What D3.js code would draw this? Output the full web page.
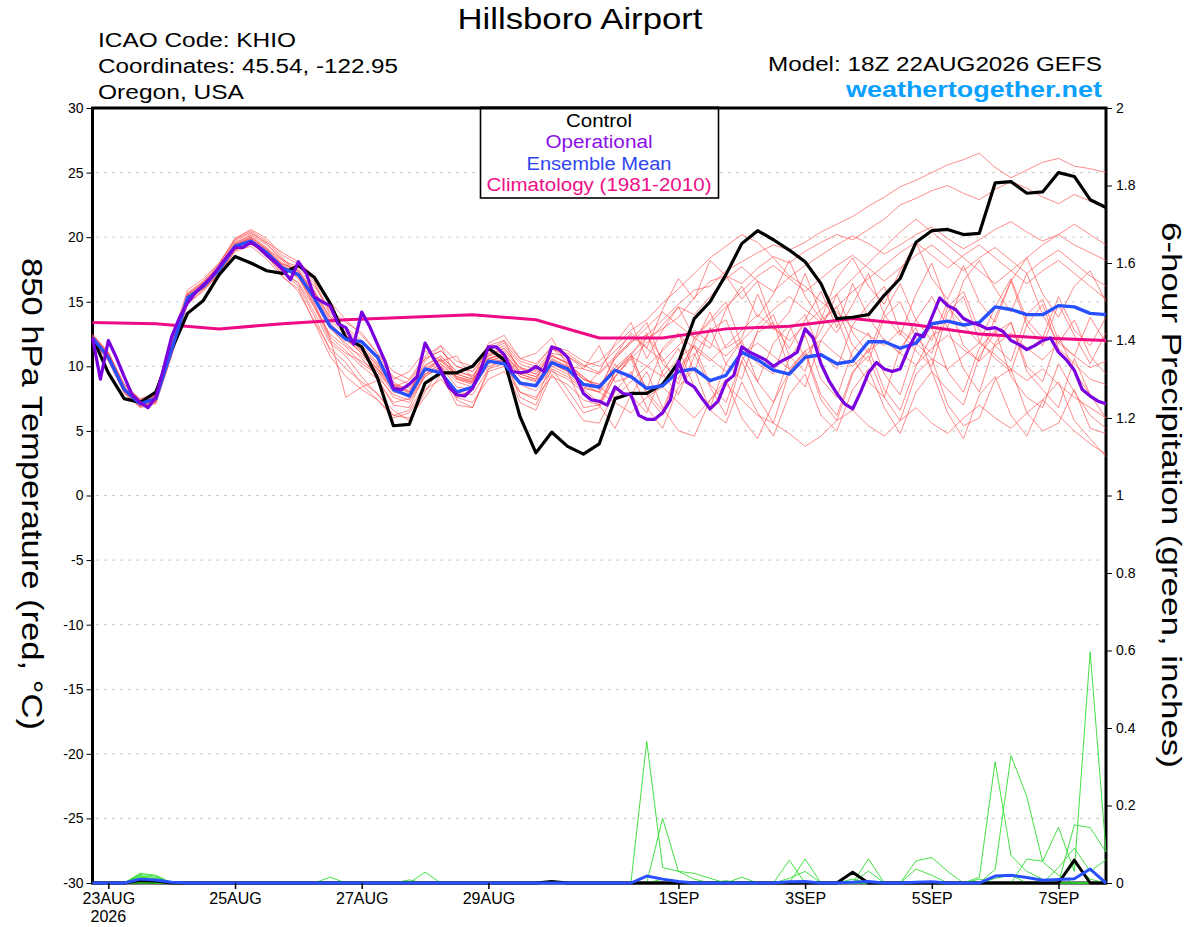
<!DOCTYPE html>
<html>
<head>
<meta charset="utf-8">
<script src="https://cdn.jsdelivr.net/npm/d3@7"></script>
<style>
  body { margin: 0; background: #fff; }
  svg { display: block; font-family: "Liberation Sans", Arial, Helvetica, sans-serif; }
</style>
</head>
<body>
<script>
// 6-hourly steps from 18Z 22AUG2026 (i = 0..64), operational is 3-hourly (j = 0..128)
var tickDays = ["2026-08-23", "2026-08-25", "2026-08-27", "2026-08-29", "2026-09-01", "2026-09-03", "2026-09-05", "2026-09-07"];
var tempTicks = [-30, -25, -20, -15, -10, -5, 0, 5, 10, 15, 20, 25, 30];
var precipTicks = [0, 0.2, 0.4, 0.6, 0.8, 1, 1.2, 1.4, 1.6, 1.8, 2];

var control = [12.2,9.5,7.5,7.2,8.0,11.3,14.1,15.1,17.1,18.5,18.0,17.4,17.2,17.8,16.9,14.9,
  12.2,11.5,9.1,5.4,5.5,8.7,9.5,9.5,10.0,11.4,10.5,6.1,3.3,4.9,3.8,3.2,
  4.0,7.5,7.9,7.9,8.6,10.3,13.7,15.0,17.1,19.5,20.5,19.8,19.0,18.1,16.4,13.7,
  13.8,14.0,15.5,16.8,19.6,20.5,20.6,20.2,20.3,24.2,24.3,23.4,23.5,25.0,24.7,22.9,22.3];

var ensMean = [12.2,10.7,8.2,7.1,7.5,11.3,15.3,16.2,17.5,19.3,19.7,18.8,17.6,17.1,15.3,13.1,
  12.1,11.9,10.7,8.2,7.7,9.8,9.5,8.0,8.4,10.4,10.2,8.7,8.5,10.3,9.8,8.6,
  8.4,9.7,9.2,8.3,8.5,9.6,9.8,8.9,9.3,11.1,10.5,9.7,9.4,10.7,10.9,10.2,
  10.4,11.9,11.9,11.4,11.8,13.3,13.5,13.2,13.4,14.6,14.4,14.0,14.0,14.7,14.6,14.1,14.0];

var operational = [12.2,9.0,12.0,10.7,9.2,7.8,7.2,6.8,7.6,9.9,12.3,13.8,14.9,15.7,16.3,16.9,
  17.7,18.5,19.2,19.2,19.6,19.2,18.6,18.1,17.5,16.7,18.1,17.2,15.4,15.0,14.7,13.3,
  13.0,11.7,14.2,13.1,11.7,10.3,8.3,8.2,8.6,9.2,11.8,10.7,9.7,8.4,7.8,7.7,
  8.3,9.7,11.5,11.5,10.9,9.6,9.5,9.6,10.0,9.6,11.5,11.3,10.7,9.3,7.9,7.4,
  7.3,7.0,8.4,7.9,7.8,6.2,5.9,5.9,6.4,7.4,10.4,8.8,8.4,7.5,6.7,7.3,
  8.8,9.3,11.5,11.1,10.8,10.5,10.0,10.4,10.7,11.1,12.9,12.2,10.2,8.9,7.9,7.1,
  6.7,8.0,9.5,10.3,9.8,9.6,9.8,11.3,12.5,12.3,13.8,15.3,14.7,14.4,13.7,13.4,
  13.2,12.9,13.0,12.7,12.0,11.7,11.3,11.6,12.0,12.2,11.1,10.5,9.7,8.2,7.7,7.3,
  7.1];

// daily at 18Z (i = 0, 4, 8 ... 64)
var climatology = [13.4,13.3,12.9,13.3,13.6,13.8,14.0,13.6,12.2,12.2,12.9,13.1,13.7,13.2,12.5,12.2,12.0];

var members = [
  [12.4,11.0,8.4,7.3,7.8,12.1,15.9,16.8,18.0,19.8,20.4,19.5,18.3,17.4,15.6,13.4,
   12.0,11.2,10.1,8.4,8.9,10.6,11.2,10.0,9.6,11.0,11.6,10.2,9.7,11.3,11.0,10.1,
   9.5,10.8,11.9,12.4,13.6,14.8,15.9,16.2,17.4,18.1,18.8,19.4,19.0,19.6,20.4,21.0,
   21.6,22.4,23.1,23.9,24.4,25.0,25.6,26.0,26.5,25.4,24.6,25.2,25.8,26.1,25.5,25.3,25.0],
  [12.0,10.5,8.0,6.9,7.2,11.0,15.1,16.4,17.9,19.9,20.6,19.9,18.6,17.9,16.6,14.2,
   12.9,11.6,10.3,8.8,8.0,9.4,10.2,9.1,8.7,10.6,11.0,9.4,9.0,10.8,10.3,9.0,
   8.6,9.9,11.0,12.2,12.9,13.8,15.3,16.6,17.0,16.4,17.6,18.5,18.0,18.9,19.6,20.2,
   19.8,20.6,21.4,22.5,23.0,23.6,24.0,23.4,22.9,23.7,24.3,23.8,23.1,22.6,23.3,22.8,22.4],
  [12.1,10.9,8.3,7.0,7.4,11.4,15.4,16.0,17.2,19.0,19.5,18.5,17.2,16.5,14.6,12.5,
   11.5,10.2,9.4,7.6,7.2,9.2,10.0,8.4,8.2,10.2,10.6,8.8,8.5,10.0,9.4,8.3,
   8.0,9.2,10.6,11.8,13.2,14.6,14.0,15.4,16.8,17.7,16.6,15.8,16.9,17.8,18.6,19.4,
   20.1,19.5,18.7,19.4,20.2,20.8,19.9,19.1,19.8,20.6,21.2,20.4,19.7,20.2,19.4,18.8,18.2],
  [12.3,10.6,8.1,7.2,7.6,11.6,15.6,16.5,17.8,19.6,20.1,19.2,18.0,17.3,15.9,13.8,
   12.6,11.2,9.8,8.6,7.9,10.4,11.6,9.0,8.8,11.2,12.0,9.4,9.0,11.4,10.4,8.2,
   9.6,11.8,13.4,10.6,12.8,14.6,12.2,11.4,14.4,16.2,13.8,15.6,18.2,15.4,13.6,16.8,
   18.4,16.2,14.8,17.4,19.6,16.8,15.2,17.8,15.0,13.4,16.6,18.4,15.6,13.8,16.2,17.4,15.0],
  [12.2,10.8,8.3,7.1,7.5,11.2,15.0,16.0,17.3,19.1,19.6,18.9,17.9,17.5,16.2,14.4,
   13.4,12.6,11.0,9.0,9.6,11.2,10.4,10.8,9.0,11.8,12.4,10.6,11.0,12.2,10.0,9.8,
   11.6,8.8,9.2,12.4,10.6,8.6,11.8,14.2,11.4,12.2,15.6,12.8,14.2,17.2,14.0,12.6,
   14.8,17.2,14.0,12.4,15.6,18.0,14.6,13.2,11.8,14.6,16.8,13.6,12.2,15.4,12.8,11.6,13.8],
  [12.0,10.4,7.9,6.8,7.1,10.8,14.8,15.9,17.4,19.5,20.2,19.4,18.2,17.0,14.9,12.3,
   11.2,10.0,9.0,7.0,6.8,9.4,9.8,7.6,8.2,10.6,10.4,8.0,7.4,10.2,9.6,6.8,
   7.0,9.6,10.8,8.2,11.4,12.6,9.6,13.0,10.2,9.0,12.8,14.0,10.8,9.6,13.6,14.6,
   11.6,10.4,13.8,15.0,12.2,11.0,14.6,15.8,12.8,11.6,10.4,14.0,15.2,12.0,10.8,13.8,11.8],
  [12.5,11.1,8.6,7.5,7.9,11.8,15.7,16.6,17.7,19.4,19.9,18.7,17.4,16.4,14.2,11.8,
   10.8,9.2,7.8,6.6,5.8,8.0,10.0,7.4,6.8,9.8,10.6,7.6,7.0,9.8,8.2,6.4,
   6.8,9.2,10.6,7.8,6.2,9.8,11.0,8.4,6.2,10.4,7.6,5.6,9.6,11.2,7.8,6.2,
   9.6,10.8,7.6,5.8,9.4,10.6,7.0,5.4,6.0,9.0,9.8,6.4,5.0,5.6,8.2,5.2,4.8],
  [12.1,10.7,8.2,7.0,7.3,11.1,15.2,16.1,17.6,19.2,19.8,18.6,17.0,15.8,13.5,11.4,
   10.3,8.6,7.4,6.2,6.0,7.6,9.4,7.0,6.8,9.6,10.0,7.2,6.6,9.4,7.6,5.8,
   5.6,8.0,9.6,6.8,5.2,8.4,9.8,6.6,5.6,8.8,6.4,4.6,7.8,9.4,6.2,5.0,
   8.2,9.8,6.8,4.8,8.0,9.6,6.4,4.4,7.8,9.2,6.2,4.6,7.4,8.8,5.8,4.4,3.0],
  [12.3,10.9,8.4,7.2,7.7,11.5,15.5,16.4,17.6,19.4,20.0,19.1,17.8,16.8,14.8,12.2,
   7.6,8.4,8.9,7.2,7.5,9.4,10.2,9.0,8.6,10.4,10.8,9.2,8.8,10.2,9.6,8.4,
   8.0,7.2,6.4,7.6,8.4,7.2,6.0,7.4,8.6,7.4,6.2,5.6,4.8,3.8,4.6,5.8,
   6.6,5.4,4.6,5.8,6.8,5.6,4.8,6.0,7.0,6.0,5.2,6.4,7.4,6.2,5.0,4.0,3.2],
  [12.2,10.6,8.0,7.0,7.4,11.3,15.3,16.2,17.5,19.3,19.7,18.8,17.6,17.1,15.3,13.1,
   12.1,11.0,9.8,8.2,7.7,9.8,10.5,9.4,9.0,10.6,10.9,9.6,9.2,10.5,10.0,9.0,
   8.6,9.6,10.8,10.0,9.2,10.6,11.6,10.6,9.6,10.9,11.8,10.8,9.8,11.2,12.0,10.9,
   10.0,11.2,12.1,11.0,10.1,11.4,12.4,11.3,10.4,11.6,12.6,11.4,10.5,11.8,10.8,9.9,10.4],
  [12.4,11.0,8.5,7.4,7.8,11.7,15.6,16.4,17.6,19.5,20.0,19.0,17.8,17.2,15.7,13.6,
   12.4,11.4,10.0,8.6,8.1,10.1,10.8,9.6,9.3,10.9,11.4,9.9,9.6,11.0,10.8,10.0,
   10.4,11.6,12.8,13.6,14.9,16.0,17.2,18.4,19.3,20.2,19.6,18.4,17.0,16.2,15.0,14.2,
   13.0,12.4,11.6,12.8,11.8,10.6,9.8,10.8,11.8,10.9,9.8,8.9,9.8,8.6,7.6,6.8,6.0],
  [12.0,10.6,8.1,6.9,7.3,11.1,15.2,16.3,17.6,19.4,19.9,19.1,18.2,17.7,16.4,14.0,
   12.6,11.4,10.2,8.6,8.3,9.6,10.6,9.2,8.9,10.8,11.4,9.9,9.4,10.9,10.2,9.2,
   8.2,10.8,12.6,11.4,14.4,16.8,15.2,18.2,17.0,15.2,16.6,13.2,11.4,13.6,15.8,13.0,
   16.4,13.8,12.0,11.0,13.6,15.4,13.0,16.6,18.2,16.0,14.2,17.2,14.0,11.8,13.6,10.8,9.4],
  [12.3,10.8,8.2,7.1,7.6,11.4,15.4,16.3,17.4,19.2,19.6,18.6,17.3,16.2,13.9,11.2,
   9.8,8.8,7.9,6.2,6.6,8.6,9.4,8.0,7.8,9.8,10.2,8.6,8.1,9.6,9.0,8.0,
   7.0,9.2,10.8,12.6,9.4,7.8,10.8,12.8,13.6,10.8,8.8,11.8,13.2,10.6,12.8,15.6,
   12.6,11.0,14.2,16.4,13.6,12.0,15.0,11.6,10.4,13.8,16.6,13.2,11.6,14.8,12.4,10.2,12.6],
  [12.2,10.9,8.3,7.2,7.7,11.6,15.5,16.6,18.0,19.9,20.5,19.7,18.4,17.0,14.6,12.0,
   11.0,10.4,9.6,8.0,7.8,9.6,10.4,9.2,8.8,10.4,10.8,9.2,8.9,10.4,9.8,8.6,
   8.0,10.2,7.8,6.4,9.6,11.4,8.4,6.8,10.2,12.0,8.8,7.2,10.6,12.4,9.0,7.6,
   11.2,12.6,9.4,7.8,11.6,13.0,9.6,8.0,11.4,12.8,9.2,7.6,6.8,10.2,8.0,6.2,5.2],
  [12.1,10.7,8.1,7.0,7.5,11.3,15.2,16.1,17.5,19.3,19.8,19.0,17.9,17.4,15.8,13.8,
   13.0,12.0,10.6,9.2,8.6,10.6,11.2,10.0,9.6,11.2,11.8,10.4,10.0,11.6,11.2,10.4,
   10.0,11.2,12.4,11.4,10.4,11.6,12.8,11.8,10.8,12.0,13.2,14.4,15.4,14.4,13.4,14.6,
   15.8,16.8,17.8,18.8,19.6,18.6,17.6,18.6,19.4,18.4,17.4,16.4,17.4,18.2,17.2,16.2,15.2],
  [12.4,11.1,8.6,7.4,7.7,11.5,15.3,16.0,17.1,18.9,19.3,18.3,16.9,16.0,13.4,10.8,
   9.2,8.2,7.4,6.0,6.4,8.2,9.0,7.6,7.2,9.0,9.6,8.0,7.6,9.2,8.6,7.4,
   7.0,5.2,7.8,9.6,6.8,5.0,4.6,7.4,9.0,6.0,4.4,7.2,9.6,11.0,7.4,5.8,
   9.4,11.4,8.2,6.6,10.0,12.4,13.0,9.8,8.0,11.8,13.4,9.6,8.2,6.8,10.6,7.8,6.0],
  [12.2,10.8,8.2,7.1,7.5,11.2,15.1,16.2,17.7,19.7,20.3,19.6,18.8,18.1,17.0,15.0,
   13.6,12.4,11.0,9.6,9.0,10.8,11.6,10.4,10.0,11.6,12.0,10.6,10.2,11.4,10.8,9.8,
   9.4,10.6,11.8,13.0,14.2,13.2,12.2,13.4,14.6,15.8,17.0,17.8,16.8,15.8,16.8,17.8,
   18.6,17.6,16.6,17.6,18.6,19.4,18.4,17.4,18.4,19.2,18.2,17.2,18.2,19.0,18.0,17.0,16.2],
  [12.0,10.5,8.0,6.9,7.2,10.9,14.9,15.8,17.2,19.0,19.5,18.7,17.6,16.9,15.1,12.9,
   11.8,10.6,9.2,7.8,7.4,9.2,10.0,8.8,8.4,10.0,10.4,8.8,8.4,9.8,9.2,8.2,
   7.2,9.6,11.0,8.0,6.6,9.8,11.6,8.6,7.2,10.4,12.6,13.4,9.8,8.4,12.0,13.8,
   10.6,8.8,7.6,11.4,13.0,9.6,8.2,7.0,10.8,12.6,13.4,10.0,8.8,12.4,9.6,7.8,7.0],
  [12.3,10.9,8.3,7.2,7.6,11.4,15.4,16.3,17.6,19.4,19.8,18.9,17.7,17.2,15.4,13.2,
   12.2,11.0,9.6,8.2,7.8,9.8,10.6,9.4,9.0,10.6,11.0,9.6,9.2,10.6,10.0,9.0,
   8.4,7.6,8.8,10.0,11.2,12.4,11.4,10.4,11.6,12.8,14.0,13.0,12.0,13.2,14.4,15.6,
   16.8,18.0,19.2,20.4,21.4,20.4,19.4,18.4,17.4,16.4,17.4,18.4,19.4,20.2,21.0,20.2,19.4],
  [12.2,10.7,8.2,7.1,7.5,11.3,15.3,16.2,17.5,19.3,19.7,18.8,17.6,17.1,15.3,13.1,
   11.6,10.8,9.8,8.4,8.0,10.0,10.8,9.6,9.2,10.8,11.2,9.8,9.4,10.8,10.2,9.2,
   8.2,10.6,12.0,13.4,10.2,9.0,12.2,13.6,15.0,11.6,10.2,9.4,12.8,14.0,11.0,9.8,
   13.2,14.8,16.2,12.6,11.2,10.0,14.2,15.4,12.0,10.6,9.6,13.2,14.8,11.4,10.2,9.0,8.6]
];

var precipControl = [0,0,0,.007,.005,0,0,0,0,0,0,0,0,0,0,0,
  0,0,0,0,0,0,0,0,0,0,0,0,0,.004,0,0,
  0,0,0,0,0,0,0,0,0,0,0,0,0,0,0,0,
  .028,0,0,0,0,0,0,0,0,0,0,0,0,0,.059,0,0];

var precipMean = [0,0,0,.01,.008,.002,0,0,0,0,0,0,0,0,0,0,
  0,0,0,0,0,0,0,0,0,0,0,0,0,0,0,0,
  0,0,0,.018,.01,.004,0,0,0,0,0,0,.003,.004,0,0,
  .002,.004,0,0,.002,.003,0,0,0,.018,.02,.014,.007,.009,.011,.036,0];

var precipMembers = [
  [0,0,0,.022,.018,0,0,0,0,0,0,0,0,0,0,0, 0,0,0,0,0,0,0,0,0,0,0,0,0,0,0,0,
   0,0,0,.365,.04,.03,.025,.012,0,0,0,0,0,0,0,0, 0,0,0,0,0,0,0,0,.015,.313,.071,.03,.01,0,0,0,0],
  [0,0,0,.025,.02,0,0,0,0,0,0,0,0,0,0,0, 0,0,0,0,0,0,0,0,0,0,0,0,0,0,0,0,
   0,0,0,0,.167,.03,.01,0,0,0,0,0,.059,0,0,0, 0,0,0,0,0,0,0,0,0,.035,.329,.223,.055,.02,0,0,0],
  [0,0,0,.018,.015,0,0,0,0,0,0,0,0,0,0,.015, 0,0,0,0,0,0,0,0,0,0,0,0,0,0,0,0,
   0,0,0,0,0,0,0,0,0,0,0,0,0,.062,0,0, 0,0,0,0,.057,.066,.03,0,0,0,0,0,0,0,.15,.143,.08],
  [0,0,0,.02,0,0,0,0,0,0,0,0,0,0,0,0, 0,0,0,0,0,.028,0,0,0,0,0,0,0,0,0,0,
   0,0,0,0,0,0,0,0,0,0,0,0,0,0,0,0, 0,.062,0,0,0,0,0,0,0,0,0,.062,.056,.144,.03,.597,.081],
  [0,0,0,.015,.012,0,0,0,0,0,0,0,0,0,0,0, 0,0,0,0,0,0,0,0,0,0,0,0,0,0,0,0,
   0,0,0,0,0,0,0,0,0,.015,0,0,0,0,0,0, 0,.031,0,0,.036,.02,0,0,0,0,0,0,0,0,.05,.01,0],
  [0,0,0,0,0,0,0,0,0,0,0,0,0,0,0,0, 0,0,0,0,.008,0,0,0,0,0,0,0,0,0,0,0,
   0,0,0,0,0,0,0,0,0,0,0,0,.012,.03,0,0, 0,0,0,0,0,0,0,0,.01,0,0,0,0,.04,.09,.03,.06],
  [0,0,0,0,0,0,0,0,0,0,0,0,0,0,0,0, 0,0,0,0,0,0,0,0,0,0,0,0,0,0,0,0,
   0,0,0,0,.01,0,0,0,0,0,0,0,0,0,0,0, .01,0,0,0,0,0,0,0,0,.012,.02,0,0,0,0,0,0],
  [0,0,0,.012,.01,0,0,0,0,0,0,0,0,0,0,0, 0,0,0,0,0,0,0,0,0,0,0,0,0,0,0,0,
   0,0,0,0,0,0,0,0,.006,0,0,0,0,0,0,0, 0,0,0,0,0,0,0,0,0,0,0,0,0,0,0,0,0]
];

[control, ensMean, precipControl, precipMean].concat(members, precipMembers).forEach(function(a, k) {
  if (a.length !== 65) throw new Error("series " + k + " has " + a.length + " values");
});
if (operational.length !== 129) throw new Error("operational has " + operational.length);
if (climatology.length !== 17) throw new Error("climatology has " + climatology.length);

var width = 1200, height = 927,
    plotL = 92.5, plotR = 1106, plotT = 108, plotB = 883,
    font = "Liberation Sans, Arial, Helvetica, sans-serif";

var t0 = Date.UTC(2026, 7, 22, 18);
function t6(i) { return new Date(t0 + i * 6 * 3600e3); }
function t3(j) { return new Date(t0 + j * 3 * 3600e3); }

var x  = d3.scaleUtc().domain([t6(0), t6(64)]).range([plotL, plotR]),
    yT = d3.scaleLinear().domain([-30, 30]).range([plotB, plotT]),
    yP = d3.scaleLinear().domain([0, 2]).range([plotB, plotT]);

var svg = d3.select("body").append("svg").attr("width", width).attr("height", height);

// dotted grid
svg.append("g").selectAll("line")
  .data(tempTicks.filter(function(d) { return d > -30 && d < 30; }))
  .enter().append("line")
    .attr("x1", plotL + 4).attr("x2", plotR - 2)
    .attr("y1", function(d) { return yT(d); }).attr("y2", function(d) { return yT(d); })
    .attr("stroke", "#b0b0b0").attr("stroke-width", 1).attr("stroke-dasharray", "2,6");

var lineT    = d3.line().x(function(d, i) { return x(t6(i)); }).y(function(d) { return yT(d); }),
    lineOp   = d3.line().x(function(d, i) { return x(t3(i)); }).y(function(d) { return yT(d); }),
    lineClim = d3.line().x(function(d, i) { return x(t6(i * 4)); }).y(function(d) { return yT(d); }),
    lineP    = d3.line().x(function(d, i) { return x(t6(i)); }).y(function(d) { return yP(d); });

// frame
svg.append("rect")
  .attr("x", plotL).attr("y", plotT).attr("width", plotR - plotL).attr("height", plotB - plotT)
  .attr("fill", "none").attr("stroke", "#000").attr("stroke-width", 3);

// ensemble members
svg.append("g").selectAll("path").data(members).enter().append("path")
  .attr("d", lineT).attr("fill", "none")
  .attr("stroke", "#ff4a4a").attr("stroke-width", 0.75).attr("stroke-opacity", 0.85);

svg.append("g").selectAll("path").data(precipMembers).enter().append("path")
  .attr("d", lineP).attr("fill", "none")
  .attr("stroke", "#2fdc2f").attr("stroke-width", 0.9);

svg.append("path").datum(precipControl).attr("d", lineP)
  .attr("fill", "none").attr("stroke", "#000").attr("stroke-width", 3).attr("stroke-linejoin", "round");
svg.append("path").datum(precipMean).attr("d", lineP)
  .attr("fill", "none").attr("stroke", "#2850ff").attr("stroke-width", 3).attr("stroke-linejoin", "round");

svg.append("path").datum(climatology).attr("d", lineClim)
  .attr("fill", "none").attr("stroke", "#ee0a84").attr("stroke-width", 3);
svg.append("path").datum(control).attr("d", lineT)
  .attr("fill", "none").attr("stroke", "#000").attr("stroke-width", 3.2).attr("stroke-linejoin", "round");
svg.append("path").datum(ensMean).attr("d", lineT)
  .attr("fill", "none").attr("stroke", "#2850ff").attr("stroke-width", 3.4).attr("stroke-linejoin", "round");
svg.append("path").datum(operational).attr("d", lineOp)
  .attr("fill", "none").attr("stroke", "#7a00e0").attr("stroke-width", 3.2).attr("stroke-linejoin", "round");

// axes
var gL = svg.append("g").attr("transform", "translate(" + plotL + ",0)")
  .call(d3.axisLeft(yT).tickValues(tempTicks).tickSize(6).tickPadding(3)
    .tickFormat(function(d) { return String(d); }));
var gR = svg.append("g").attr("transform", "translate(" + plotR + ",0)")
  .call(d3.axisRight(yP).tickValues(precipTicks).tickSize(6).tickPadding(4)
    .tickFormat(function(d) { return String(d); }));
var gB = svg.append("g").attr("transform", "translate(0," + plotB + ")")
  .call(d3.axisBottom(x).tickValues(tickDays.map(function(s) { return new Date(s + "T00:00:00Z"); }))
    .tickSize(6).tickPadding(4)
    .tickFormat(function(d) { return d3.utcFormat("%-d%b")(d).toUpperCase(); }));

[gL, gR, gB].forEach(function(g) {
  g.select(".domain").remove();
  g.attr("font-family", font).attr("font-size", 14);
  g.selectAll("line").attr("stroke", "#000");
  g.selectAll("text").attr("fill", "#000");
});
gB.attr("font-size", 16);
gB.selectAll(".tick line").attr("stroke-width", 1.5);

svg.append("text").attr("x", x(new Date("2026-08-23T00:00:00Z"))).attr("y", 922)
  .attr("text-anchor", "middle").attr("font-family", font).attr("font-size", 16).text("2026");

// legend
var legend = [
  { label: "Control", colour: "#000", y: 127, len: 66 },
  { label: "Operational", colour: "#8a10e6", y: 148, len: 107 },
  { label: "Ensemble Mean", colour: "#3046f2", y: 169.5, len: 145 },
  { label: "Climatology (1981-2010)", colour: "#ee1088", y: 191, len: 225 }
];
svg.append("rect").attr("x", 480.5).attr("y", plotT).attr("width", 238).attr("height", 90)
  .attr("fill", "#fff").attr("stroke", "#000").attr("stroke-width", 1.6);
svg.append("line").attr("x1", 480).attr("x2", 719).attr("y1", plotT).attr("y2", plotT)
  .attr("stroke", "#000").attr("stroke-width", 3);
svg.append("g").selectAll("text").data(legend).enter().append("text")
  .attr("x", 599).attr("y", function(d) { return d.y; })
  .attr("text-anchor", "middle").attr("font-family", font).attr("font-size", 18)
  .attr("textLength", function(d) { return d.len; }).attr("lengthAdjust", "spacingAndGlyphs")
  .attr("fill", function(d) { return d.colour; })
  .text(function(d) { return d.label; });

// header texts
var header = [
  { t: "Hillsboro Airport", x: 580, y: 29, size: 30, anchor: "middle", len: 245 },
  { t: "ICAO Code: KHIO", x: 98, y: 47, size: 20, anchor: "start", len: 198 },
  { t: "Coordinates: 45.54, -122.95", x: 98, y: 73, size: 20, anchor: "start", len: 300 },
  { t: "Oregon, USA", x: 98, y: 99, size: 20, anchor: "start", len: 146 },
  { t: "Model: 18Z 22AUG2026 GEFS", x: 1102, y: 71, size: 20, anchor: "end", len: 334 }
];
svg.append("g").selectAll("text").data(header).enter().append("text")
  .attr("x", function(d) { return d.x; }).attr("y", function(d) { return d.y; })
  .attr("text-anchor", function(d) { return d.anchor; })
  .attr("font-family", font).attr("font-size", function(d) { return d.size; })
  .attr("textLength", function(d) { return d.len; }).attr("lengthAdjust", "spacingAndGlyphs")
  .text(function(d) { return d.t; });

svg.append("text").attr("x", 1102).attr("y", 97).attr("text-anchor", "end")
  .attr("font-family", font).attr("font-size", 22).attr("font-weight", "bold")
  .attr("textLength", 256).attr("lengthAdjust", "spacingAndGlyphs")
  .attr("fill", "#0aa0ff").text("weathertogether.net");

// axis titles, reading top to bottom
svg.append("text").attr("transform", "translate(22,494) rotate(90)")
  .attr("text-anchor", "middle").attr("font-family", font).attr("font-size", 29)
  .attr("textLength", 472).attr("lengthAdjust", "spacingAndGlyphs")
  .text("850 hPa Temperature (red, \u00B0C)");
svg.append("text").attr("transform", "translate(1162,495) rotate(90)")
  .attr("text-anchor", "middle").attr("font-family", font).attr("font-size", 28)
  .attr("textLength", 546).attr("lengthAdjust", "spacingAndGlyphs")
  .text("6-hour Precipitation (green, inches)");
</script>
</body>
</html>
